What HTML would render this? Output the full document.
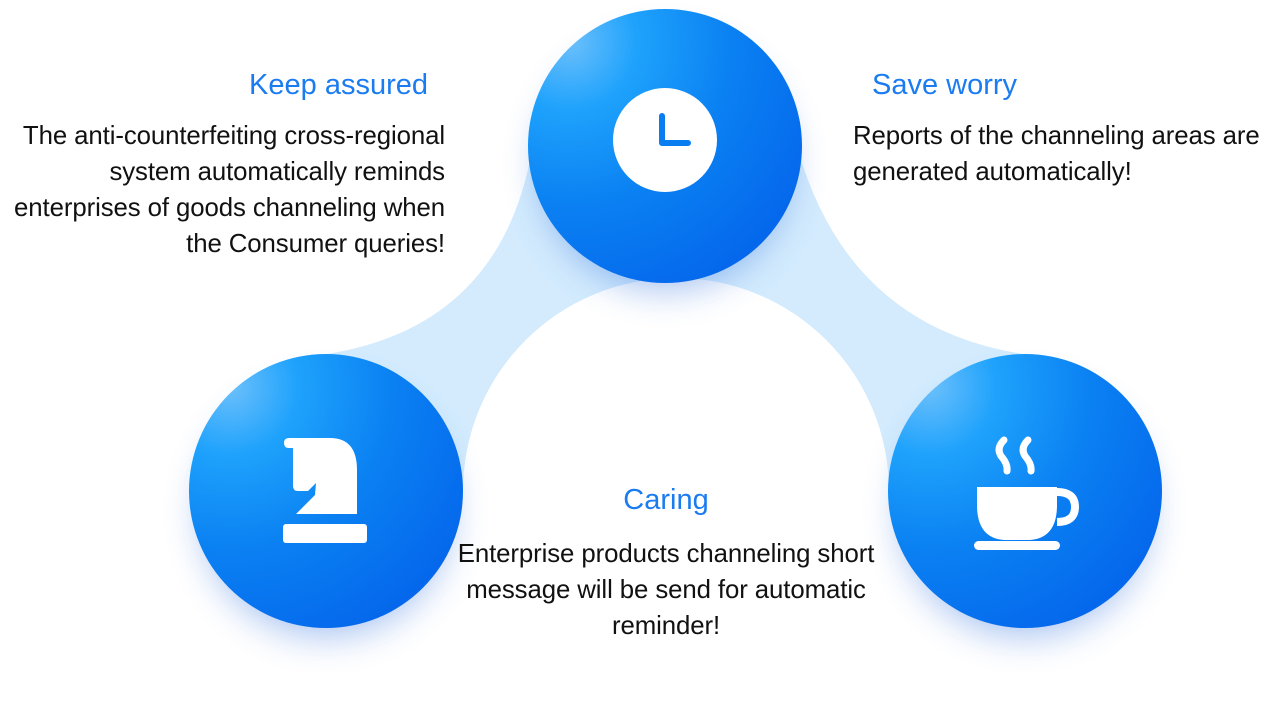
<!DOCTYPE html>
<html><head><meta charset="utf-8"><style>
html,body{margin:0;padding:0;background:#fff;}
body{width:1284px;height:720px;position:relative;overflow:hidden;font-family:"Liberation Sans",sans-serif;}
.h{position:absolute;color:#1a7cf0;font-size:29px;line-height:36px;white-space:nowrap;}
.p{position:absolute;color:#111;font-size:25.8px;line-height:36px;white-space:nowrap;letter-spacing:-0.1px;}
</style></head><body>
<svg width="1284" height="720" style="position:absolute;left:0;top:0">
<defs>
<radialGradient id="g" cx="0.15" cy="0.12" r="1">
<stop offset="0" stop-color="#6cc0fb"/>
<stop offset="0.25" stop-color="#1ea2fc"/>
<stop offset="0.6" stop-color="#0a80f2"/>
<stop offset="1" stop-color="#0568ec"/>
</radialGradient>
<filter id="sh" x="-50%" y="-50%" width="200%" height="200%">
<feGaussianBlur stdDeviation="18"/>
</filter>
</defs>
<path d="M532 150 Q500 330 320 355 L326 491 L463 491 A213 213 0 0 1 889 491 L1025 491 L1030 355 Q850 330 798 150 Z" fill="#d3ebfd"/>
<circle cx="665" cy="165" r="125" fill="#3a78e0" opacity="0.45" filter="url(#sh)"/>
<circle cx="326" cy="511" r="125" fill="#3a78e0" opacity="0.45" filter="url(#sh)"/>
<circle cx="1025" cy="511" r="125" fill="#3a78e0" opacity="0.45" filter="url(#sh)"/>
<circle cx="665" cy="146" r="137" fill="url(#g)"/>
<circle cx="326" cy="491" r="137" fill="url(#g)"/>
<circle cx="1025" cy="491" r="137" fill="url(#g)"/>
<circle cx="665" cy="140" r="52" fill="#fff"/>
<path d="M662 116 V143 H688" stroke="#0a7df0" stroke-width="6" fill="none" stroke-linecap="round" stroke-linejoin="round"/>
<path d="M289 438 L330 438 Q357 438 357 470 L357 514 L296 514 L315 495 L316 483 L308 491 L298 491 Q293 491 293 486 L293 448 L289 448 Q284 448 284 443 Q284 438 289 438 Z" fill="#fff"/>
<rect x="283" y="524" width="84" height="19" rx="3" fill="#fff"/>
<path d="M977 487 H1057 V505 Q1057 538 1030 540 H1004 Q977 538 977 505 Z" fill="#fff"/>
<path d="M1057 492 Q1075 492 1075 507 Q1075 522 1057 522" stroke="#fff" stroke-width="8" fill="none"/>
<rect x="974" y="541" width="86" height="9" rx="4.5" fill="#fff"/>
<path d="M1004 440 Q996 448 1001 456 Q1008 464 1007 471" stroke="#fff" stroke-width="7" fill="none" stroke-linecap="round"/>
<path d="M1028 440 Q1020 448 1025 456 Q1032 464 1031 471" stroke="#fff" stroke-width="7" fill="none" stroke-linecap="round"/>
</svg>
<div class="h" style="right:856px;top:67px;">Keep assured</div>
<div class="p" style="right:839px;top:118px;text-align:right;">The anti-counterfeiting cross-regional<br>system automatically reminds<br>enterprises of goods channeling when<br>the Consumer queries!</div>
<div class="h" style="left:872px;top:67px;">Save worry</div>
<div class="p" style="left:853px;top:118px;">Reports of the channeling areas are<br>generated automatically!</div>
<div class="h" style="left:466px;width:400px;text-align:center;top:482px;">Caring</div>
<div class="p" style="left:366px;width:600px;text-align:center;top:536px;">Enterprise products channeling short<br>message will be send for automatic<br>reminder!</div>
</body></html>
